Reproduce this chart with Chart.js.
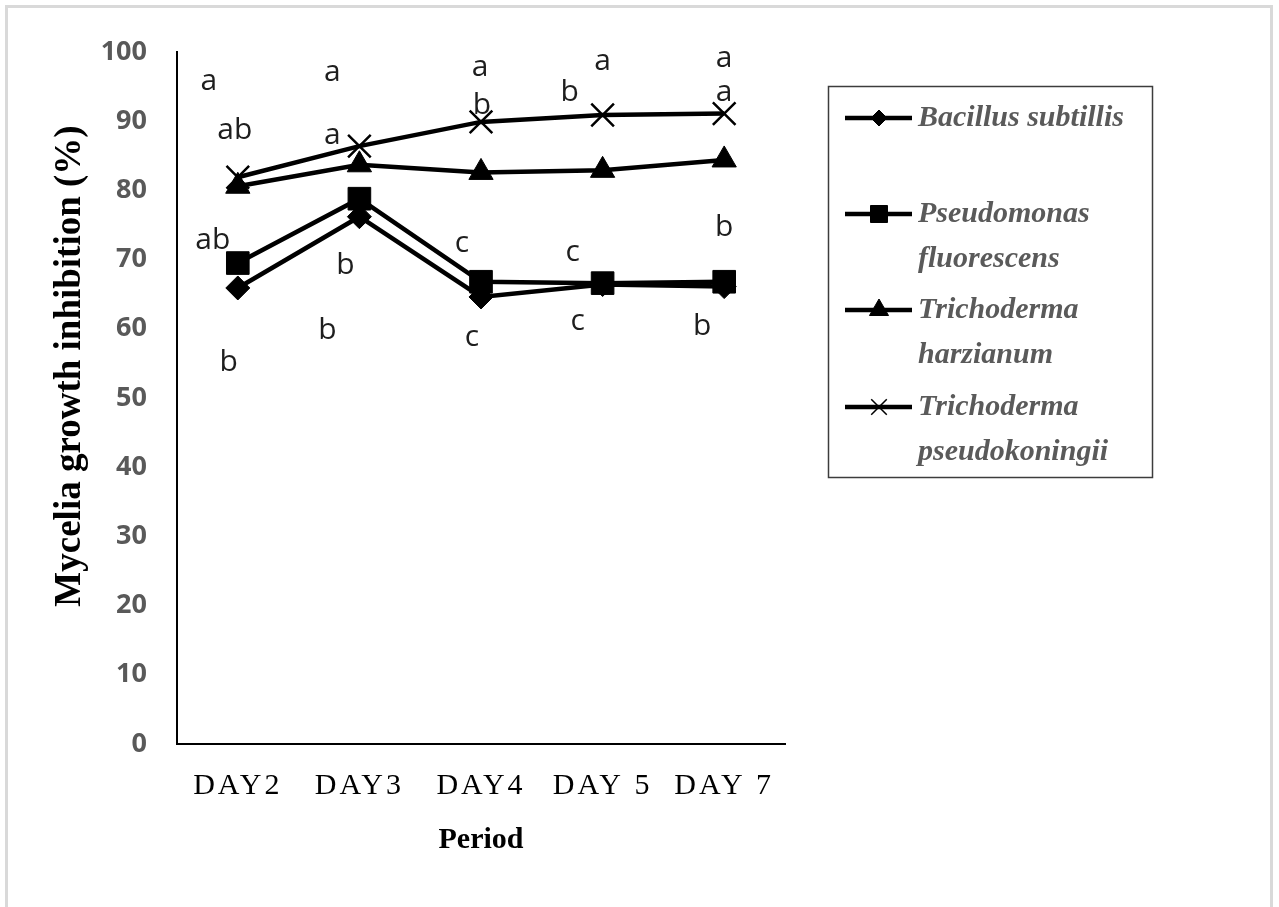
<!DOCTYPE html>
<html>
<head>
<meta charset="utf-8">
<title>Mycelia growth inhibition</title>
<script src="https://cdn.jsdelivr.net/npm/chart.js@4.4.1/dist/chart.umd.min.js"></script>
<style>
  html, body { margin: 0; padding: 0; background: #fff; }
  canvas { display: block; }
</style>
</head>
<body>
<canvas id="chart" width="1279" height="907"></canvas>
<script>
// ---- data -------------------------------------------------------------
const categories = ['DAY2', 'DAY3', 'DAY4', 'DAY 5', 'DAY 7'];

const seriesNames = [
  'Bacillus subtillis',
  'Pseudomonas fluorescens',
  'Trichoderma harzianum',
  'Trichoderma pseudokoningii'
];

const bacillus       = [65.9, 76.2, 64.6, 66.4, 66.1];
const pseudomonas    = [69.5, 78.8, 66.8, 66.6, 66.8];
const harzianum      = [80.6, 83.7, 82.6, 82.9, 84.4];
const pseudokoningii = [81.9, 86.4, 89.9, 90.9, 91.1];

const yMin = 0;
const yMax = 100;
const yStep = 10;

// significance letters, four rows per day (top to bottom)
const letterRow1 = ['a', 'a', 'a', 'a', 'a'];
const letterRow2 = ['ab', 'a', 'b', 'b', 'a'];
const letterRow3 = ['ab', 'b', 'c', 'c', 'b'];
const letterRow4 = ['b', 'b', 'c', 'c', 'b'];

// ---- layout of the letters: [height on value axis, horizontal nudge px] --
const letterPlacement = [
  [[95.7, -29], [97.0, -27], [97.7, -1], [98.6, 0], [99.1, 0]],
  [[88.7, -3], [88.0, -27], [92.3, 1], [94.1, -33], [94.1, 0]],
  [[72.8, -25], [69.2, -14], [72.4, -19], [71.1, -30], [74.6, 0]],
  [[55.2, -9], [59.8, -32], [58.7, -9], [61.0, -25], [60.3, -22]]
];

const markerStyles = [
  { pointStyle: 'rectRot',  radius: 12, border: 1,   legendRadius: 8 },
  { pointStyle: 'rect',     radius: 16, border: 1,   legendRadius: 12 },
  { pointStyle: 'triangle', radius: 14, border: 1,   legendRadius: 11 },
  { pointStyle: 'crossRot', radius: 16, border: 2.5, legendRadius: 11 }
];

const seriesValues = [bacillus, pseudomonas, harzianum, pseudokoningii];

// ---- plugins ----------------------------------------------------------
const pageFrame = {
  id: 'pageFrame',
  beforeDraw(chart) {
    const ctx = chart.ctx;
    ctx.save();
    ctx.fillStyle = '#fff';
    ctx.fillRect(0, 0, chart.width, chart.height);
    ctx.strokeStyle = '#d9d9d9';
    ctx.lineWidth = 3;
    ctx.strokeRect(6.5, 6.5, 1265, 1000);
    ctx.restore();

    // spaced-out lettering for the period labels
    const xs = chart.scales.x;
    if (xs && !xs._spacedLabels) {
      const original = xs.drawLabels.bind(xs);
      xs.drawLabels = function (area) {
        const c = this.ctx;
        c.save();
        c.letterSpacing = '3px';
        original(area);
        c.restore();
      };
      xs._spacedLabels = true;
    }
  }
};

const valueAxisTitle = {
  id: 'valueAxisTitle',
  afterDraw(chart) {
    const ctx = chart.ctx;
    ctx.save();
    ctx.translate(70, 366);
    ctx.rotate(-Math.PI / 2);
    ctx.font = 'bold 37px "Liberation Serif"';
    ctx.fillStyle = '#000';
    ctx.textAlign = 'center';
    ctx.textBaseline = 'middle';
    ctx.fillText('Mycelia growth inhibition (%)', 0, 0);
    ctx.restore();
  }
};

const significanceLetters = {
  id: 'significanceLetters',
  afterDatasetsDraw(chart) {
    const ctx = chart.ctx;
    const xs = chart.scales.x, ys = chart.scales.y;
    const rows = [letterRow1, letterRow2, letterRow3, letterRow4];
    ctx.save();
    ctx.font = '30px "Open Sans"';
    ctx.fillStyle = '#1e1e1e';
    ctx.textAlign = 'center';
    ctx.textBaseline = 'middle';
    rows.forEach((row, r) => {
      row.forEach((txt, i) => {
        const [v, dx] = letterPlacement[r][i];
        ctx.fillText(txt, xs.getPixelForValue(i) + dx, ys.getPixelForValue(v));
      });
    });
    ctx.restore();
  }
};

const sideLegend = {
  id: 'sideLegend',
  afterDraw(chart) {
    const ctx = chart.ctx;
    const box = { x: 828.5, y: 86.5, w: 324, h: 391 };
    const rowY = [118, 214, 310, 407];
    const lineGap = 45;
    ctx.save();
    ctx.strokeStyle = '#3c3c3c';
    ctx.lineWidth = 1.5;
    ctx.strokeRect(box.x, box.y, box.w, box.h);

    chart.data.datasets.forEach((ds, i) => {
      const y = rowY[i];
      const m = markerStyles[i];
      ctx.strokeStyle = '#000';
      ctx.lineWidth = 4.5;
      ctx.beginPath();
      ctx.moveTo(845, y);
      ctx.lineTo(912, y);
      ctx.stroke();

      ctx.fillStyle = '#000';
      ctx.lineWidth = m.pointStyle === 'crossRot' ? 1.5 : 1;
      Chart.helpers.drawPoint(ctx, {
        pointStyle: m.pointStyle,
        radius: m.legendRadius,
        rotation: 0,
        borderWidth: ctx.lineWidth
      }, 879, y);

      ctx.font = 'italic bold 30px "Liberation Serif"';
      ctx.fillStyle = '#5a5a5a';
      ctx.textAlign = 'left';
      ctx.textBaseline = 'middle';
      const words = ds.label.split(' ');
      const lines = [];
      let cur = '';
      words.forEach(w => {
        const t = cur ? cur + ' ' + w : w;
        if (cur && ctx.measureText(t).width > 225) { lines.push(cur); cur = w; }
        else cur = t;
      });
      lines.push(cur);
      lines.forEach((ln, k) => ctx.fillText(ln, 918, y + k * lineGap));
    });
    ctx.restore();
  }
};

// ---- chart ------------------------------------------------------------
const datasets = seriesNames.map((name, i) => ({
  label: name,
  data: seriesValues[i],
  borderColor: '#000',
  backgroundColor: '#000',
  borderWidth: 4.5,
  tension: 0,
  fill: false,
  pointStyle: markerStyles[i].pointStyle,
  pointRadius: markerStyles[i].radius,
  pointBorderWidth: markerStyles[i].border,
  pointBackgroundColor: '#000',
  pointBorderColor: '#000'
}));

new Chart(document.getElementById('chart'), {
  type: 'line',
  data: { labels: categories, datasets },
  options: {
    responsive: false,
    animation: false,
    devicePixelRatio: 1,
    layout: { padding: { left: 0, top: 52, right: 494, bottom: 0 } },
    plugins: {
      legend: { display: false },
      tooltip: { enabled: false }
    },
    scales: {
      x: {
        type: 'category',
        offset: true,
        grid: { display: false, drawTicks: false },
        border: { display: true, color: '#000', width: 2 },
        ticks: {
          color: '#000',
          padding: 24,
          font: { family: '"Liberation Serif"', size: 30 },
          maxRotation: 0,
          autoSkip: false
        },
        title: {
          display: true,
          text: 'Period',
          color: '#000',
          font: { family: '"Liberation Serif"', size: 30, weight: 'bold' },
          padding: { top: 0, bottom: 49 }
        },
        afterFit(s) { s.height = 163; }
      },
      y: {
        min: yMin,
        max: yMax,
        grid: { display: false, drawTicks: false },
        border: { display: true, color: '#000', width: 2 },
        ticks: {
          stepSize: yStep,
          color: '#595959',
          padding: 30,
          font: { family: '"Open Sans"', size: 27, weight: 'bold' }
        },
        afterFit(s) { s.width = 177; }
      }
    }
  },
  plugins: [pageFrame, valueAxisTitle, significanceLetters, sideLegend]
});
</script>
</body>
</html>
